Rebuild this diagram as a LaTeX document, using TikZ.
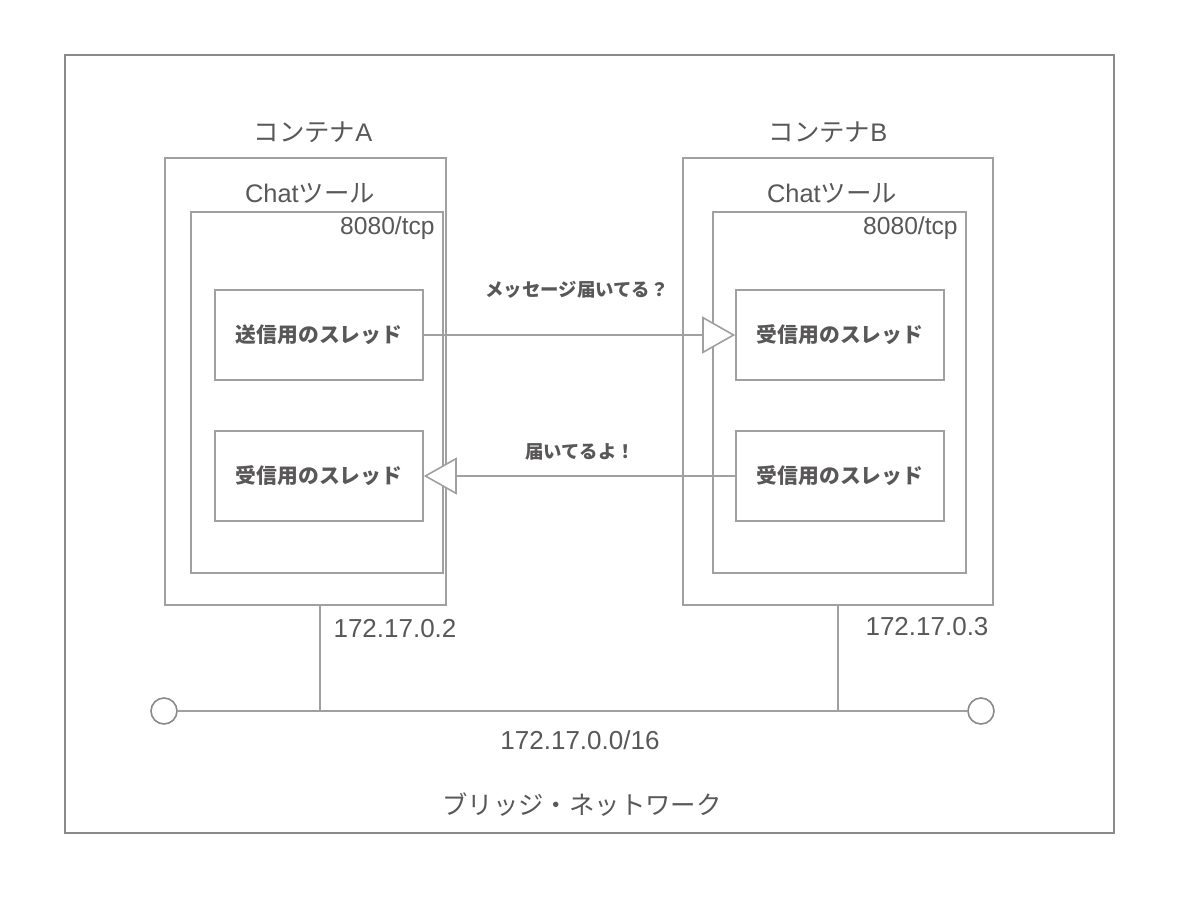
\documentclass[tikz,border=0pt]{standalone}
\usepackage{fontspec}
\setmainfont{Noto Sans CJK JP}
\newfontfamily\latinfont{Liberation Sans}
\usetikzlibrary{arrows.meta}
\definecolor{linegray}{HTML}{A0A0A0}
\definecolor{framegray}{HTML}{8A8A8A}
\definecolor{textgray}{HTML}{595757}
\tikzset{
    box/.style = {draw = linegray, line width = 0.8pt},
    thread/.style = {draw = linegray, line width = 0.8pt, minimum width = 104pt, minimum height = 45pt,
        font = \fontsize{10.4}{12}\selectfont\bfseries, text = textgray},
    label/.style = {text = textgray, font = \fontsize{12.7}{15}\selectfont},
    addr/.style = {text = textgray, font = \fontsize{13}{15}\selectfont\latinfont},
    msg/.style = {text = textgray, font = \fontsize{9.2}{11}\selectfont\bfseries},
    port/.style = {text = textgray, font = \fontsize{12.3}{14}\selectfont\latinfont, inner xsep = 4pt},
    send/.style = {draw = linegray, line width = 0.8pt, -{Triangle[open, fill = white, length = 16.5pt, width = 18.5pt]}},
    endpoint/.style = {circle, draw = framegray, line width = 0.8pt, fill = white, minimum size = 13pt, inner sep = 0pt}
}
\begin{document}
\begin{tikzpicture}[x = 0.5pt, y = -0.5pt]
    \useasboundingbox (0,0) rectangle (1189,899);
    % network frame
    \draw [draw = framegray, line width = 0.8pt] (65,55) rectangle (1114,833);
    % container A
    \draw [box] (165,158) rectangle (446,605);
    \node (contA) at (313,132) [label] {コンテナ{\latinfont A}};
    \draw [box] (191,212) rectangle (443,573);
    \node (chatA) at (310,193) [label] {{\latinfont Chat}ツール};
    \node (portA) at (443,228) [port, anchor = east] {8080/tcp};
    \node (sendA) at (319,335) [thread] {送信用のスレッド};
    \node (recvA) at (319,476) [thread] {受信用のスレッド};
    % container B
    \draw [box] (683,158) rectangle (993,605);
    \node (contB) at (828,132) [label] {コンテナ{\latinfont B}};
    \draw [box] (713,212) rectangle (966,573);
    \node (chatB) at (832,193) [label] {{\latinfont Chat}ツール};
    \node (portB) at (966,228) [port, anchor = east] {8080/tcp};
    \node (recvB) at (840,335) [thread] {受信用のスレッド};
    \node (sendB) at (840,476) [thread] {受信用のスレッド};
    % messages
    \draw [send] (sendA.east) -- (recvB.west);
    \node (ask) at (577,290) [msg] {メッセージ届いてる？};
    \draw [send] (sendB.west) -- (recvA.east);
    \node (ans) at (580,452) [msg] {届いてるよ！};
    % bridge
    \coordinate (upA) at (320,605);
    \coordinate (upB) at (838,605);
    \coordinate (tapA) at (320,711);
    \coordinate (tapB) at (838,711);
    \node (endL) at (164,711) [endpoint] {};
    \node (endR) at (981,711) [endpoint] {};
    \draw [draw = linegray, line width = 0.8pt] (endL) -- (endR);
    \draw [draw = linegray, line width = 0.8pt] (upA) -- (tapA);
    \draw [draw = linegray, line width = 0.8pt] (upB) -- (tapB);
    \node (ipA) at (395,629) [addr] {172.17.0.2};
    \node (ipB) at (927,627) [addr] {172.17.0.3};
    \node (net) at (580,740) [addr] {172.17.0.0/16};
    \node (bridge) at (582,805) [label] {ブリッジ・ネットワーク};
\end{tikzpicture}
\end{document}
